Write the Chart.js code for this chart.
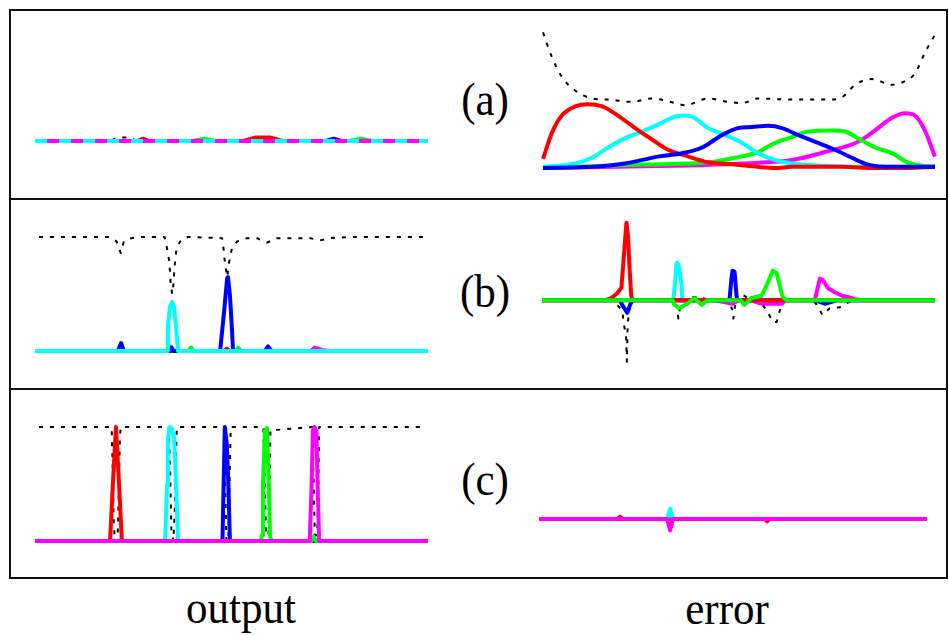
<!DOCTYPE html>
<html>
<head>
<meta charset="utf-8">
<script src="https://cdn.jsdelivr.net/npm/chart.js@4/dist/chart.umd.min.js"></script>
<style>
  html,body{margin:0;padding:0;background:#fff;}
  body{width:949px;height:635px;position:relative;overflow:hidden;font-family:"Liberation Serif","Times New Roman",serif;}
  .frame{position:absolute;left:9px;top:9px;width:935px;height:566px;border:2px solid #111;}
  .hline{position:absolute;left:9px;width:939px;height:2px;background:#111;}
  canvas{position:absolute;}
  .lbl{position:absolute;font-size:43px;line-height:43px;color:#000;white-space:nowrap;transform-origin:50% 36px;transform:translateX(-50%) scaleY(1.08);}
</style>
</head>
<body>
<div class="frame"></div>
<div class="hline" style="top:198px"></div>
<div class="hline" style="top:388px"></div>

<canvas id="aL" width="436" height="185" style="left:12px;top:12px;width:436px;height:185px"></canvas>
<canvas id="aR" width="430" height="185" style="left:515px;top:12px;width:430px;height:185px"></canvas>
<canvas id="bL" width="436" height="186" style="left:12px;top:201px;width:436px;height:186px"></canvas>
<canvas id="bR" width="430" height="186" style="left:515px;top:201px;width:430px;height:186px"></canvas>
<canvas id="cL" width="436" height="185" style="left:12px;top:391px;width:436px;height:185px"></canvas>
<canvas id="cR" width="430" height="185" style="left:515px;top:391px;width:430px;height:185px"></canvas>

<div class="lbl" style="left:485px;top:79px">(a)</div>
<div class="lbl" style="left:485px;top:271px">(b)</div>
<div class="lbl" style="left:485px;top:459px">(c)</div>
<div class="lbl" style="left:241px;top:587px">output</div>
<div class="lbl" style="left:727px;top:588px">error</div>

<script>
// ---------- labels ----------
const rowLabels = ["(a)", "(b)", "(c)"];
const columnLabels = ["output", "error"];

// ---------- data: [x (% of panel width), value] ----------
// Row (a) — output
const aOutBlack   = [[0,0],[19,0],[21,0.03],[24,0.03],[26,0],[100,0]];
const aOutRed     = [[0,0],[26,0],[27.5,0.02],[29,0],[53,0],[56,0.03],[60,0.03],[63,0],[100,0]];
const aOutGreen   = [[0,0],[40,0],[43,0.02],[46,0],[80,0],[83,0.02],[86,0],[100,0]];
const aOutBlue    = [[0,0],[74,0],[76,0.02],[78,0],[100,0]];
const aOutCyan    = [[0,0],[100,0]];
const aOutMagenta = [[0,0],[100,0]];
// Row (a) — error
const aErrBlack   = [[0,1.19],[2.3,0.97],[4.8,0.80],[8.2,0.68],[12.5,0.61],[16.6,0.60],[22.7,0.58],[27.8,0.61],[33.7,0.57],[36.2,0.55],[42.1,0.61],[47.2,0.58],[50.8,0.57],[54.8,0.61],[63.5,0.60],[73.7,0.60],[76.3,0.62],[79.6,0.73],[83.9,0.78],[89.0,0.73],[91.6,0.75],[94.9,0.83],[97.4,1.01],[100,1.17]];
const aErrRed     = [[0,0.08],[2.3,0.31],[4.8,0.46],[8.2,0.54],[11.5,0.56],[15.1,0.54],[19.1,0.46],[23.5,0.35],[27.8,0.25],[31.9,0.16],[36.2,0.11],[42.1,0.05],[49,0.03],[54.8,0.01],[59.2,0],[63.5,0.01],[76.3,0.01],[84.7,0],[93,0],[100,0.01]];
const aErrCyan    = [[0,0.01],[8.2,0.04],[12.5,0.09],[16.6,0.18],[20.9,0.26],[25.3,0.32],[29.3,0.38],[32.9,0.44],[35.5,0.46],[38,0.45],[42.1,0.35],[46.4,0.29],[50.8,0.22],[54.8,0.13],[59.2,0.07],[63.5,0.04],[71.9,0.02],[80.4,0.01],[100,0.01]];
const aErrGreen   = [[0,0],[25.3,0.03],[42.1,0.05],[49,0.09],[54.8,0.14],[59.2,0.22],[63.5,0.27],[67.6,0.32],[73.7,0.33],[77,0.32],[80.4,0.26],[84.7,0.18],[89,0.13],[93,0.05],[96.7,0.02],[100,0.01]];
const aErrMagenta = [[0,0],[33.7,0.02],[50.8,0.04],[63.5,0.07],[71.9,0.14],[80.4,0.23],[84.7,0.33],[89,0.44],[92.3,0.48],[94.9,0.46],[97.4,0.33],[100,0.10]];
const aErrBlue    = [[0,0],[12.5,0.01],[20.9,0.04],[29.3,0.10],[35.5,0.13],[40.6,0.18],[45.7,0.29],[49.7,0.35],[53.3,0.36],[57.4,0.37],[61,0.35],[65,0.29],[70.2,0.22],[74.5,0.16],[78.8,0.09],[82.9,0.03],[89,0.01],[100,0.01]];

// Row (b) — output
const bOutBlack   = [[1,1],[19,1],[20.8,0.96],[21.8,0.86],[22.6,0.96],[24.6,0.99],[26,1],[33,1],[33.6,0.9],[34.2,0.78],[34.5,0.6],[34.9,0.5],[35.2,0.58],[35.5,0.73],[35.8,0.84],[36.1,0.91],[37.3,0.98],[39,1],[47.6,0.99],[48,0.89],[48.3,0.78],[48.9,0.65],[49.4,0.78],[50.1,0.9],[51.4,0.96],[53.9,0.99],[56.5,0.99],[59,0.95],[61.6,0.99],[70,0.99],[72.5,0.97],[75,0.99],[80,1],[99,1]];
const bOutMagenta = [[0,0],[70.2,0],[71.2,0.03],[73,0.01],[75,0],[100,0]];
const bOutRed     = [[0,0],[48,0],[48.8,0.02],[49.6,0],[100,0]];
const bOutGreen   = [[0,0],[34,0],[34.6,0.04],[35.3,0],[39,0],[39.7,0.03],[40.4,0],[51,0],[51.7,0.03],[52.4,0],[100,0]];
const bOutBlue    = [[0,0],[21.1,0],[21.9,0.07],[22.6,0],[34.2,0],[34.7,0.03],[35.2,0],[47.1,0],[48.1,0.34],[48.9,0.64],[49.1,0.65],[49.6,0.49],[50.1,0.2],[50.4,0],[58.5,0],[59.3,0.04],[60.2,0],[100,0]];
const bOutCyan    = [[0,0],[33.6,0],[33.8,0.2],[34.3,0.38],[34.9,0.43],[35.4,0.38],[35.9,0.2],[36.4,0],[100,0]];
// Row (b) — error
const bErrBlack   = [[0,0],[17,0],[19.1,-0.04],[20.4,-0.09],[20.9,-0.22],[21.4,-0.33],[21.6,-0.54],[21.8,-0.2],[22.5,-0.03],[23.5,0],[32.5,0],[33.2,0.06],[34,0],[34.4,-0.07],[34.7,-0.16],[35.3,-0.02],[37,0.02],[38.8,0.03],[40.6,0.03],[42,0],[47.5,0],[48.5,-0.09],[48.7,-0.16],[49.2,-0.02],[49.8,0.06],[51.5,0.04],[53,0],[55.9,-0.03],[57.4,-0.1],[58.7,-0.19],[59.7,-0.19],[60.5,-0.09],[61.2,-0.02],[62,0],[69,0],[69.9,-0.04],[71.4,-0.13],[73.2,-0.07],[75.8,-0.06],[77.8,-0.02],[80,0],[100,0]];
const bErrMagenta = [[0,0],[44,0],[48.5,-0.03],[50,0],[53,0],[56,-0.03],[61,-0.03],[62,0],[69.4,0],[70.7,0.19],[71.4,0.18],[72.7,0.11],[74.5,0.07],[76.3,0.04],[77.8,0.03],[79.6,0.01],[81.4,0],[100,0]];
const bErrCyan    = [[0,0],[33.4,0],[33.9,0.16],[34.2,0.32],[34.4,0.33],[34.9,0.29],[35.5,0.13],[35.7,0],[100,0]];
const bErrBlue    = [[0,0],[19.8,0],[20.4,-0.04],[21.7,-0.11],[22.4,-0.04],[23,0],[47.7,0],[48.2,0.19],[48.5,0.26],[49,0.25],[49.5,0.04],[49.7,0],[69.5,0],[72,-0.03],[75,0],[100,0]];
const bErrRed     = [[0,0],[16,0],[17.6,0.02],[19.1,0.06],[20.2,0.11],[20.7,0.33],[21.2,0.56],[21.5,0.68],[21.9,0.56],[22.2,0.33],[22.7,0.04],[23,0],[100,0]];
const bErrGreen   = [[0,0],[33.2,0],[33.7,-0.04],[34.9,-0.07],[37,-0.03],[38.8,0.02],[40.6,-0.04],[42.1,0],[50.5,0],[51.5,-0.04],[53.3,0.02],[55.9,0.04],[57.4,0.15],[58.7,0.26],[59.7,0.24],[60.5,0.13],[61.2,0.03],[62.2,0],[100,0]];

// Row (c) — output
const cOutBlack   = [[1,1],[19.5,1],[19.8,0.6],[20.0,0.2],[20.3,0],[21.0,0],[21.3,0.4],[21.6,0.9],[21.8,1],[34.0,1],[34.4,0.6],[34.7,0.1],[35.2,0],[35.6,0.3],[35.9,0.8],[36.1,1],[48.1,1],[48.4,0.5],[48.7,0],[49.2,0],[49.5,0.5],[49.8,1],[58.1,1],[58.4,0.6],[58.8,0.05],[59.4,0.05],[59.7,0.5],[59.9,0.97],[70.6,1],[70.9,0.5],[71.2,0.05],[71.8,0.05],[72.1,0.5],[72.3,1],[99,1]];
const cOutRed     = [[0,0],[19.1,0],[19.8,0.49],[20.6,1.0],[21.4,0.49],[22.1,0],[100,0]];
const cOutCyan    = [[0,0],[33.1,0],[33.6,0.49],[33.8,0.9],[34.3,1.0],[34.9,0.98],[35.4,0.9],[35.9,0.49],[36.4,0],[100,0]];
const cOutBlue    = [[0,0],[47.7,0],[48.0,0.5],[48.3,1.0],[48.8,0.85],[49.2,0.5],[49.6,0],[100,0]];
const cOutGreen   = [[0,0],[57.4,0],[57.8,0.05],[58.0,0.49],[58.5,0.97],[59.0,0.99],[59.5,0.49],[59.8,0.05],[60.1,0],[70.3,0],[70.9,0.04],[71.5,0],[100,0]];
const cOutMagenta = [[0,0],[69.9,0],[70.4,0.5],[70.7,0.97],[71.1,1.0],[71.6,0.97],[71.9,0.5],[72.3,0],[100,0]];
// Row (c) — error
const cErrRed     = [[0,0],[20.3,0],[20.9,0.02],[21.5,0],[58.2,0],[58.8,-0.02],[59.4,0],[100,0]];
const cErrCyan    = [[0,0],[33.0,0],[33.8,0.09],[34.5,0],[100,0]];
const cErrMagenta = [[0,0],[33.0,0],[33.8,-0.1],[34.5,0],[100,0]];

// ---------- styles ----------
const COL = {black:'#000000', red:'#ff0000', cyan:'#00ffff', blue:'#0000ff', green:'#00ff00', magenta:'#ff00ff'};
const PX_PER_UNIT = 114;

function ds(arr, color, opts){
  const dotted = color === 'black';
  return Object.assign({
    data: arr.map(p => ({x:p[0], y:p[1]})),
    borderColor: COL[color],
    borderWidth: dotted ? 2 : 4,
    borderDash: dotted ? [4,7] : [],
    borderCapStyle: 'butt',
    borderJoinStyle: 'round',
    pointRadius: 0,
    tension: 0,
    fill: false,
    clip: false
  }, opts || {});
}
const SMOOTH = {cubicInterpolationMode:'monotone'};

// panel layout: canvas box, pixel span of x = 0..100, baseline pixel (all in page px)
// datasets are listed bottom-to-top; 'order' makes later ones paint on top
function panel(id, box, x0, x1, base, sets){
  const ppx = (x1 - x0) / 100;
  const xmin = -(x0 - box.l) / ppx;
  const xmax = 100 + (box.l + box.w - x1) / ppx;
  const ymax = (base - box.t) / PX_PER_UNIT;
  const ymin = -(box.t + box.h - base) / PX_PER_UNIT;
  sets.forEach((s, i) => { s.order = sets.length - i; });
  new Chart(document.getElementById(id), {
    type: 'line',
    data: { datasets: sets },
    options: {
      responsive: false,
      animation: false,
      devicePixelRatio: 1,
      events: [],
      layout: { padding: 0 },
      plugins: { legend: {display:false}, tooltip: {enabled:false}, title: {display:false} },
      scales: {
        x: { type:'linear', display:false, min:xmin, max:xmax, bounds:'data' },
        y: { type:'linear', display:false, min:ymin, max:ymax, bounds:'data' }
      }
    }
  });
}

panel('aL', {l:12,t:12,w:436,h:185}, 35, 428, 141, [
  ds(aOutBlack,'black'), ds(aOutRed,'red'), ds(aOutGreen,'green'), ds(aOutBlue,'blue'),
  ds(aOutCyan,'cyan'), ds(aOutMagenta,'magenta',{borderDash:[12,12], borderDashOffset:12})
]);
panel('aR', {l:515,t:12,w:430,h:185}, 543, 935, 168, [
  ds(aErrBlack,'black',SMOOTH), ds(aErrMagenta,'magenta',SMOOTH), ds(aErrGreen,'green',SMOOTH),
  ds(aErrCyan,'cyan',SMOOTH), ds(aErrRed,'red',SMOOTH), ds(aErrBlue,'blue',SMOOTH)
]);
panel('bL', {l:12,t:201,w:436,h:186}, 35, 428, 351, [
  ds(bOutBlack,'black'), ds(bOutMagenta,'magenta'), ds(bOutRed,'red'), ds(bOutGreen,'green'),
  ds(bOutBlue,'blue'), ds(bOutCyan,'cyan')
]);
panel('bR', {l:515,t:201,w:430,h:186}, 542, 935, 300.3, [
  ds(bErrBlack,'black'), ds(bErrMagenta,'magenta'), ds(bErrCyan,'cyan'), ds(bErrBlue,'blue'),
  ds(bErrRed,'red'), ds(bErrGreen,'green')
]);
panel('cL', {l:12,t:391,w:436,h:185}, 35, 428, 541, [
  ds(cOutBlack,'black'), ds(cOutRed,'red'), ds(cOutCyan,'cyan'), ds(cOutBlue,'blue'),
  ds(cOutGreen,'green'), ds(cOutMagenta,'magenta')
]);
panel('cR', {l:515,t:391,w:430,h:185}, 539, 927, 519, [
  ds(cErrRed,'red'), ds(cErrCyan,'cyan'), ds(cErrMagenta,'magenta')
]);
</script>
</body>
</html>
